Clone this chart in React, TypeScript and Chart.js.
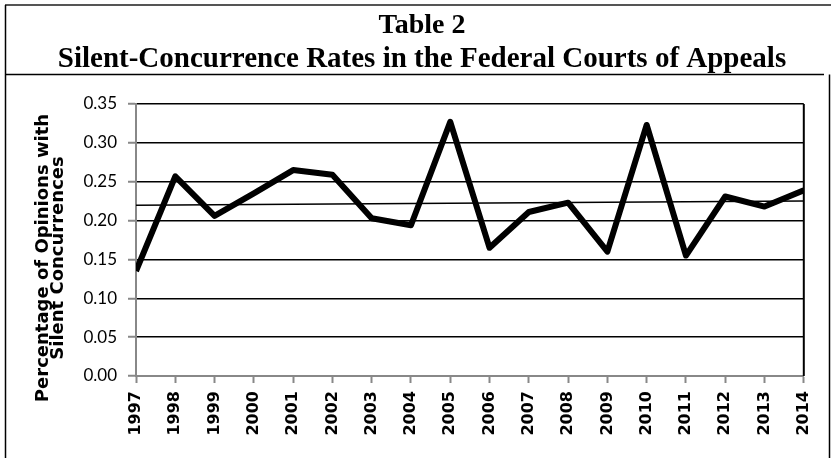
import React, { useEffect, useRef } from 'react';
import { Chart, registerables } from 'chart.js';

Chart.register(...registerables);

// ---- data ----
const years = ['1997', '1998', '1999', '2000', '2001', '2002', '2003', '2004', '2005',
  '2006', '2007', '2008', '2009', '2010', '2011', '2012', '2013', '2014'];
const silentRates = [0.135, 0.257, 0.206, 0.235, 0.265, 0.259, 0.203, 0.194, 0.327,
  0.165, 0.211, 0.223, 0.160, 0.323, 0.155, 0.231, 0.218, 0.239];
const trendRates = [0.2198, null, null, null, null, null, null, null, null,
  null, null, null, null, null, null, null, null, 0.2253];
const titleLines = ['Table 2', 'Silent-Concurrence Rates in the Federal Courts of Appeals'];
const yTitleLines = ['Percentage of Opinions with', 'Silent Concurrences'];
const yMin = 0;
const yMax = 0.35;
const yStep = 0.05;

const W = 831;
const H = 458;

const framePlugin = {
  id: 'framePlugin',
  beforeDatasetsDraw(chart: any) {
    const { ctx, chartArea } = chart;
    ctx.save();
    ctx.strokeStyle = '#000';
    ctx.lineWidth = 2;
    ctx.beginPath();
    ctx.moveTo(chartArea.right, chartArea.top);
    ctx.lineTo(chartArea.right, chartArea.bottom);
    ctx.stroke();
    ctx.restore();
  },
  afterDraw(chart: any) {
    const { ctx } = chart;
    ctx.save();
    // outer frame
    ctx.strokeStyle = '#555';
    ctx.lineWidth = 2;
    ctx.beginPath();
    ctx.moveTo(5, 5);
    ctx.lineTo(W, 5);
    ctx.stroke();
    ctx.strokeStyle = '#000';
    ctx.lineWidth = 1.5;
    ctx.beginPath();
    ctx.moveTo(5.5, 5);
    ctx.lineTo(5.5, H);
    ctx.stroke();
    ctx.beginPath();
    ctx.moveTo(5, 74.5);
    ctx.lineTo(824, 74.5);
    ctx.stroke();
    ctx.beginPath();
    ctx.moveTo(829.5, 74.5);
    ctx.lineTo(829.5, H);
    ctx.stroke();
    // titles
    ctx.fillStyle = '#000';
    ctx.textAlign = 'center';
    ctx.textBaseline = 'alphabetic';
    ctx.font = 'bold 28px "Liberation Serif", "Times New Roman", serif';
    ctx.fillText(titleLines[0], 422, 33);
    ctx.font = 'bold 29px "Liberation Serif", "Times New Roman", serif';
    ctx.fillText(titleLines[1], 422, 67);
    // y axis title
    ctx.font = 'bold 18px "DejaVu Sans", sans-serif';
    ctx.textBaseline = 'middle';
    const xs = [43, 58];
    yTitleLines.forEach((line, i) => {
      ctx.save();
      ctx.translate(xs[i], 258);
      ctx.rotate(-Math.PI / 2);
      ctx.fillText(line, 0, 0);
      ctx.restore();
    });
    ctx.restore();
  },
};

export default function App() {
  const ref = useRef<HTMLCanvasElement | null>(null);

  useEffect(() => {
    if (!ref.current) return;
    const chart = new Chart(ref.current, {
      type: 'line',
      data: {
        labels: years,
        datasets: [
          {
            label: 'Silent-concurrence rate',
            data: silentRates,
            borderColor: '#000',
            backgroundColor: '#000',
            borderWidth: 6,
            pointRadius: 0,
            tension: 0,
            borderJoinStyle: 'round',
            clip: 0,
            order: 0,
          },
          {
            label: 'Linear trend',
            data: trendRates,
            borderColor: '#000',
            borderWidth: 1.5,
            pointRadius: 0,
            spanGaps: true,
            tension: 0,
            clip: 0,
            order: 1,
          },
        ],
      },
      options: {
        responsive: false,
        animation: false,
        layout: { padding: { left: 0, right: 23, top: 104, bottom: 0 } },
        plugins: {
          legend: { display: false },
          title: { display: false },
          tooltip: { enabled: false },
        },
        scales: {
          x: {
            afterFit: (s: any) => { s.height = H - 376; },
            grid: {
              drawOnChartArea: false,
              drawTicks: true,
              tickLength: 7,
              tickColor: '#888',
              tickWidth: 2,
            },
            border: { color: '#888', width: 2 },
            ticks: {
              minRotation: 90,
              maxRotation: 90,
              autoSkip: false,
              padding: 8,
              color: '#000',
              font: { family: '"DejaVu Sans"', weight: 'bold', size: 16 },
            },
          },
          y: {
            min: yMin,
            max: yMax,
            afterFit: (s: any) => { s.width = 136; },
            grid: {
              color: '#000',
              lineWidth: 1.5,
              drawTicks: true,
              tickLength: 8,
              tickColor: '#888',
              tickWidth: 2,
            },
            border: { color: '#888', width: 2 },
            ticks: {
              stepSize: yStep,
              padding: 11,
              color: '#000',
              font: { family: 'Lato', size: 17 },
              callback: (v: any) => Number(v).toFixed(2),
            },
          },
        },
      },
      plugins: [framePlugin],
    });
    return () => chart.destroy();
  }, []);

  return (
    <div style={{ position: 'absolute', left: 0, top: 0, width: W, height: H, background: '#fff' }}>
      <canvas ref={ref} width={W} height={H} />
    </div>
  );
}
